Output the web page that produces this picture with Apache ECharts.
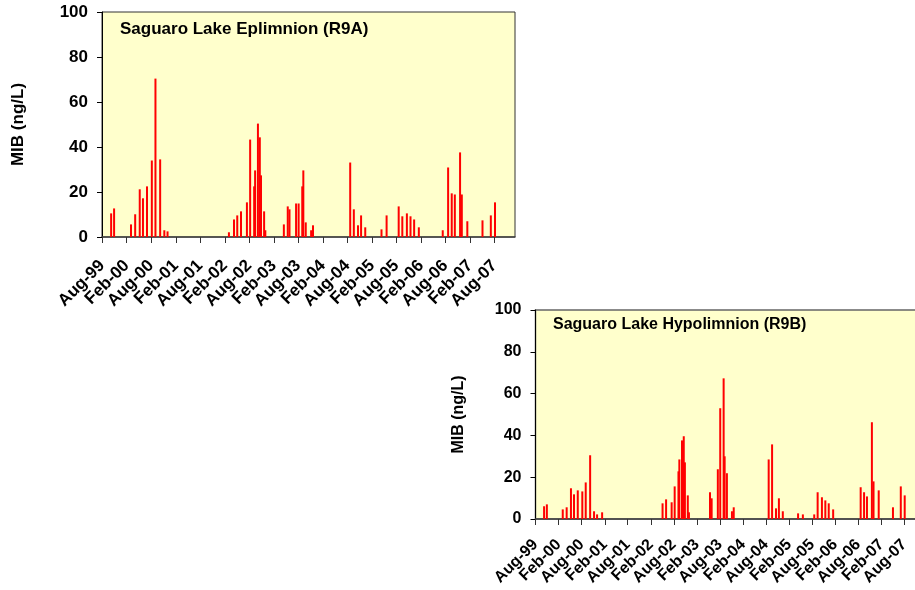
<!DOCTYPE html>
<html>
<head>
<meta charset="utf-8">
<script src="https://cdn.jsdelivr.net/npm/echarts@6/dist/echarts.min.js"></script>
<style>
  html, body { margin: 0; padding: 0; background: #ffffff; }
  #chart { width: 915px; height: 590px; }
</style>
</head>
<body>
<div id="chart"></div>
<script>
// Half-yearly axis ticks and their labels
const tickDates = ['1999-08-01','2000-02-01','2000-08-01','2001-02-01','2001-08-01','2002-02-01',
  '2002-08-01','2003-02-01','2003-08-01','2004-02-01','2004-08-01','2005-02-01','2005-08-01',
  '2006-02-01','2006-08-01','2007-02-01','2007-08-01'];
const tickLabels = ['Aug-99','Feb-00','Aug-00','Feb-01','Aug-01','Feb-02','Aug-02','Feb-03',
  'Aug-03','Feb-04','Aug-04','Feb-05','Aug-05','Feb-06','Aug-06','Feb-07','Aug-07'];
const axisStart = '1999-08-01';
const axisEnd = '2008-01-01';

// Epilimnion (R9A) sampling dates and MIB concentrations, ng/L
const epiDates = ['1999-10-08','1999-10-30','2000-03-04','2000-04-04','2000-05-08','2000-06-01',
  '2000-07-01','2000-08-06','2000-09-02','2000-10-07','2000-11-07','2000-12-01',
  '2002-03-03','2002-04-10','2002-05-04','2002-06-01','2002-07-15','2002-08-08','2002-09-07',
  '2002-09-14','2002-10-05','2002-10-19','2002-10-28','2002-11-20','2002-11-29',
  '2003-04-16','2003-05-15','2003-05-28','2003-07-16','2003-08-04','2003-08-31','2003-09-08',
  '2003-09-26','2003-11-05','2003-11-19',
  '2004-08-22','2004-09-18','2004-10-19','2004-11-11','2004-12-12',
  '2005-04-12','2005-05-20','2005-08-18','2005-09-14','2005-10-18','2005-11-14','2005-12-11',
  '2006-01-15','2006-07-12','2006-08-21','2006-09-17','2006-10-10','2006-11-18','2006-12-01',
  '2007-01-11','2007-05-04','2007-07-05','2007-08-05'];
const epiMIB = [10.5, 12.7, 5.6, 10.1, 21.2, 17.2,
  22.5, 34.0, 70.4, 34.5, 3.0, 2.5,
  2.1, 7.8, 9.6, 11.4, 15.4, 43.3, 22.5,
  29.6, 50.4, 44.3, 27.4, 11.4, 3.0,
  5.6, 13.6, 12.3, 14.9, 14.9, 22.5, 29.6,
  6.5, 3.0, 5.2,
  33.1, 12.3, 5.2, 9.6, 4.3,
  3.4, 9.6, 13.6, 9.2, 10.5, 9.2, 7.8,
  4.3, 3.0, 30.9, 19.4, 18.9, 37.6, 18.9,
  7.0, 7.4, 9.6, 15.4];

// Hypolimnion (R9B) sampling dates and MIB concentrations, ng/L
const hypoDates = ['1999-10-08','1999-10-30','2000-03-04','2000-04-04','2000-05-08','2000-06-01',
  '2000-07-01','2000-08-06','2000-09-02','2000-10-07','2000-11-07','2000-12-01','2001-01-10',
  '2002-05-04','2002-06-01','2002-07-15','2002-08-08','2002-09-07','2002-09-14','2002-10-05',
  '2002-10-19','2002-10-28','2002-11-20','2002-11-29',
  '2003-05-15','2003-05-28','2003-07-16','2003-08-04','2003-08-31','2003-09-08','2003-09-26',
  '2003-11-05','2003-11-19',
  '2004-08-22','2004-09-18','2004-10-19','2004-11-11','2004-12-12',
  '2005-04-12','2005-05-20','2005-08-18','2005-09-14','2005-10-18','2005-11-14','2005-12-11',
  '2006-01-15','2006-08-21','2006-09-17','2006-10-10','2006-11-18','2006-12-01','2007-01-11',
  '2007-05-04','2007-07-05','2007-08-05'];
const hypoMIB = [6.1, 7.0, 4.6, 5.6, 14.7, 11.8,
  13.7, 13.2, 17.5, 30.5, 3.7, 2.2, 3.2,
  7.5, 9.4, 8.0, 15.6, 22.8, 28.5, 37.6,
  39.6, 27.1, 11.3, 3.2,
  12.8, 9.9, 23.8, 53.0, 67.3, 30.0, 21.9,
  3.7, 5.6,
  28.5, 35.7, 5.1, 9.9, 3.7,
  2.7, 2.2, 2.2, 12.8, 10.4, 8.9, 7.5,
  4.6, 15.2, 12.8, 10.8, 46.3, 18.0, 13.7,
  5.6, 15.6, 11.3];

const FONT = '"Liberation Sans", Arial, sans-serif';

function ts(s) {
  const p = s.split('-').map(Number);
  return Date.UTC(p[0], p[1] - 1, p[2]);
}
const tickValues = tickDates.map(ts);
const endValue = ts(axisEnd);
// the axis end carries a blank label so every dated label stays visible
const labelValues = tickValues.concat([endValue]);

function tickLabel(v) {
  if (v >= endValue) return '';
  let best = 0;
  for (let i = 1; i < tickValues.length; i++) {
    if (Math.abs(tickValues[i] - v) < Math.abs(tickValues[best] - v)) best = i;
  }
  return tickLabels[best];
}

function makeX(gridIndex, fontSize, margin) {
  return {
    type: 'value', gridIndex: gridIndex,
    min: ts(axisStart), max: endValue,
    axisLine: { show: true, onZero: false, lineStyle: { color: '#404040', width: 1.5 } },
    axisTick: { show: true, customValues: tickValues, length: 6, lineStyle: { color: '#333333', width: 1 } },
    axisLabel: {
      customValues: labelValues, rotate: 45, margin: margin,
      showMinLabel: true, hideOverlap: false,
      formatter: tickLabel,
      fontSize: fontSize, fontWeight: 'bold', color: '#000', fontFamily: FONT
    },
    splitLine: { show: false }
  };
}

function makeY(gridIndex, fontSize, nameSize, nameGap) {
  return {
    type: 'value', gridIndex: gridIndex,
    min: 0, max: 100, interval: 20,
    axisLine: { show: true, lineStyle: { color: '#000', width: 1 } },
    axisTick: { show: true, length: 5, lineStyle: { color: '#000' } },
    axisLabel: { margin: 14, fontSize: fontSize, fontWeight: 'bold', color: '#000', fontFamily: FONT },
    splitLine: { show: false },
    name: 'MIB (ng/L)', nameLocation: 'middle', nameGap: nameGap,
    nameTextStyle: { fontSize: nameSize, fontWeight: 'bold', color: '#000', fontFamily: FONT }
  };
}

function makeBars(dates, values, axisIndex) {
  return {
    type: 'bar', xAxisIndex: axisIndex, yAxisIndex: axisIndex,
    data: dates.map((d, i) => [ts(d), values[i]]),
    barWidth: 2,
    itemStyle: { color: '#FF0000' },
    silent: true
  };
}

const chart = echarts.init(document.getElementById('chart'), null, { renderer: 'canvas' });
chart.setOption({
  animation: false,
  backgroundColor: '#ffffff',
  grid: [
    { left: 102, top: 12, width: 413, height: 225, show: true, outerBoundsMode: 'none',
      backgroundColor: '#FFFFCC', borderColor: '#333333', borderWidth: 1 },
    // the hypolimnion panel runs past the right edge of the page
    { left: 535.5, top: 310, width: 388, height: 209, show: true, outerBoundsMode: 'none',
      backgroundColor: '#FFFFCC', borderColor: '#666666', borderWidth: 1.5 }
  ],
  xAxis: [makeX(0, 17, 26), makeX(1, 16, 23)],
  yAxis: [makeY(0, 17, 17, 75), makeY(1, 16, 16, 69)],
  series: [makeBars(epiDates, epiMIB, 0), makeBars(hypoDates, hypoMIB, 1)],
  graphic: [
    { type: 'text', x: 120, y: 29,
      style: { text: 'Saguaro Lake Eplimnion (R9A)', font: 'bold 17px ' + FONT, fill: '#000',
               verticalAlign: 'middle', textVerticalAlign: 'middle' } },
    { type: 'text', x: 553, y: 325,
      style: { text: 'Saguaro Lake Hypolimnion (R9B)', font: 'bold 16px ' + FONT, fill: '#000',
               verticalAlign: 'middle', textVerticalAlign: 'middle' } }
  ]
});
</script>
</body>
</html>
